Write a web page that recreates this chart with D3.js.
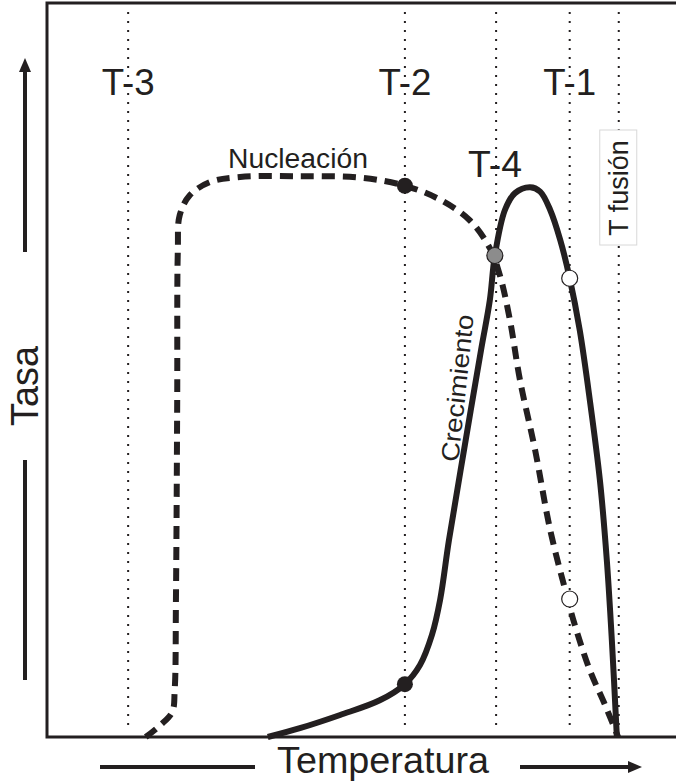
<!DOCTYPE html>
<html>
<head>
<meta charset="utf-8">
<script src="https://cdn.jsdelivr.net/npm/d3@7/dist/d3.min.js"></script>
<style>
  html, body { margin: 0; padding: 0; background: #fff; }
  svg { display: block; }
</style>
</head>
<body>
<svg id="chart" width="676" height="784"></svg>
<script>
// Temperature reference lines (0-100 relative temperature)
const refNames = ["T-3", "T-2", "T-4", "T-1", "T fusión"];
const refTemps = [12.9, 56.9, 71.4, 83.1, 90.9];

// Nucleation rate curve (dashed)
const nucTemp = [15.7, 18.0, 19.9, 20.3, 20.5, 20.7, 20.8, 21.1, 22.7, 25.9, 30.7, 40.2, 49.8, 56.9, 62.5, 67.2, 70.4, 72.0, 73.6, 75.2, 77.6, 80.0, 82.4, 83.9, 86.3, 88.7, 90.8];
const nucRate = [0, 1.6, 3.4, 6.4, 18.7, 45.9, 66.3, 71.1, 73.8, 75.6, 76.3, 76.4, 76.2, 75.1, 73.2, 70.4, 66.6, 62.9, 56.8, 48.6, 39.1, 28.2, 20.0, 15.3, 9.1, 4.4, 0];

// Growth rate curve (solid)
const groTemp = [35.1, 40.2, 46.6, 52.9, 56.9, 59.3, 61.2, 62.5, 63.9, 66.3, 69.0, 70.4, 71.2, 72.8, 74.4, 76.8, 78.4, 80.0, 81.6, 83.1, 84.7, 86.3, 87.9, 89.0, 89.8, 90.6];
const groRate = [0, 1.2, 3.0, 5.0, 7.2, 9.8, 13.9, 18.7, 26.8, 39.1, 52.7, 59.5, 65.6, 71.8, 74.1, 74.9, 74.3, 71.8, 67.7, 62.5, 55.4, 45.9, 35.0, 24.1, 13.2, 0];

// Marked points
const markTemp = [56.9, 56.9, 71.2, 83.1, 83.1];
const markRate = [75.1, 7.2, 65.6, 62.5, 18.8];
const markFill = ["#231f20", "#231f20", "#8c8c8c", "#fff", "#fff"];

const svg = d3.select("#chart");
const W = 676, H = 784;
const mLeft = 47, mTop = 3, mBottom = 737;

const x = d3.scaleLinear().domain([0, 100]).range([mLeft, W]);
const y = d3.scaleLinear().domain([0, 100]).range([mBottom, mTop]);

const ink = "#231f20";
const sans = "'Liberation Sans', Arial, Helvetica, sans-serif";

// Reference dotted lines
svg.append("g").selectAll("line")
  .data(refTemps)
  .join("line")
  .attr("x1", d => x(d)).attr("x2", d => x(d))
  .attr("y1", 12).attr("y2", mBottom - 8)
  .attr("stroke", ink)
  .attr("stroke-width", 2)
  .attr("stroke-dasharray", "2,7");

// Frame (top + left + bottom)
svg.append("path")
  .attr("d", `M${W},${mTop}H${mLeft}V${mBottom}H${W}`)
  .attr("fill", "none")
  .attr("stroke", ink)
  .attr("stroke-width", 3);

const line = d3.line()
  .x(d => x(d[0]))
  .y(d => y(d[1]))
  .curve(d3.curveCatmullRom.alpha(0.5));

const nuc = nucTemp.map((t, i) => [t, nucRate[i]]);
const gro = groTemp.map((t, i) => [t, groRate[i]]);

svg.append("path")
  .attr("d", line(gro))
  .attr("fill", "none")
  .attr("stroke", ink)
  .attr("stroke-width", 6);

svg.append("path")
  .attr("d", line(nuc))
  .attr("fill", "none")
  .attr("stroke", ink)
  .attr("stroke-width", 6)
  .attr("stroke-dasharray", "13,8");

// Marker dots
svg.append("g").selectAll("circle")
  .data(markTemp)
  .join("circle")
  .attr("cx", d => x(d))
  .attr("cy", (d, i) => y(markRate[i]))
  .attr("r", 8)
  .attr("fill", (d, i) => markFill[i])
  .attr("stroke", ink)
  .attr("stroke-width", (d, i) => markFill[i] === ink ? 0 : 1.2);

// Top labels
const topLabels = [0, 1, 3];
svg.append("g").selectAll("text")
  .data(topLabels)
  .join("text")
  .attr("x", i => x(refTemps[i]))
  .attr("y", 95)
  .attr("text-anchor", "middle")
  .attr("font-family", sans)
  .attr("font-size", 37)
  .attr("textLength", 53)
  .attr("lengthAdjust", "spacingAndGlyphs")
  .attr("fill", ink)
  .text(i => refNames[i]);

svg.append("text")
  .attr("x", x(refTemps[2]) - 1)
  .attr("y", 177)
  .attr("text-anchor", "middle")
  .attr("font-family", sans)
  .attr("font-size", 37)
  .attr("textLength", 54)
  .attr("lengthAdjust", "spacingAndGlyphs")
  .attr("fill", ink)
  .text(refNames[2]);

// T fusión boxed label
const fx = x(refTemps[4]), fy = 188;
svg.append("rect")
  .attr("x", fx - 19).attr("y", 130)
  .attr("width", 37).attr("height", 115)
  .attr("fill", "#fff")
  .attr("stroke", "#d8d8d8")
  .attr("stroke-width", 1);
svg.append("text")
  .attr("transform", `translate(${fx + 9},${fy}) rotate(-90)`)
  .attr("text-anchor", "middle")
  .attr("font-family", sans)
  .attr("font-size", 27)
  .attr("fill", ink)
  .text(refNames[4]);

// Curve labels
svg.append("text")
  .attr("x", 298).attr("y", 168)
  .attr("text-anchor", "middle")
  .attr("font-family", sans)
  .attr("font-size", 27)
  .attr("textLength", 140)
  .attr("lengthAdjust", "spacingAndGlyphs")
  .attr("fill", ink)
  .text("Nucleación");

svg.append("text")
  .attr("transform", "translate(466,389) rotate(-84)")
  .attr("text-anchor", "middle")
  .attr("font-family", sans)
  .attr("font-size", 25)
  .attr("textLength", 148)
  .attr("lengthAdjust", "spacingAndGlyphs")
  .attr("fill", ink)
  .text("Crecimiento");

// Axis titles with arrows
const arrowHead = (px, py, dir) => {
  const p = dir === "up"
    ? [[px, py], [px - 6, py + 14], [px + 6, py + 14]]
    : [[px, py], [px - 14, py - 6], [px - 14, py + 6]];
  svg.append("path")
    .attr("d", d3.line()(p) + "Z")
    .attr("fill", ink);
};

svg.append("line").attr("x1", 25).attr("x2", 25).attr("y1", 252).attr("y2", 66)
  .attr("stroke", ink).attr("stroke-width", 4);
arrowHead(25, 58, "up");
svg.append("line").attr("x1", 25).attr("x2", 25).attr("y1", 460).attr("y2", 680)
  .attr("stroke", ink).attr("stroke-width", 4);
svg.append("text")
  .attr("transform", "translate(38,386) rotate(-90)")
  .attr("text-anchor", "middle")
  .attr("font-family", sans)
  .attr("font-size", 38)
  .attr("textLength", 80)
  .attr("lengthAdjust", "spacingAndGlyphs")
  .attr("fill", ink)
  .text("Tasa");

svg.append("line").attr("x1", 100).attr("x2", 255).attr("y1", 767).attr("y2", 767)
  .attr("stroke", ink).attr("stroke-width", 4);
svg.append("line").attr("x1", 520).attr("x2", 632).attr("y1", 767).attr("y2", 767)
  .attr("stroke", ink).attr("stroke-width", 4);
arrowHead(642, 767, "right");
svg.append("text")
  .attr("x", 383).attr("y", 773)
  .attr("text-anchor", "middle")
  .attr("font-family", sans)
  .attr("font-size", 36)
  .attr("textLength", 212)
  .attr("lengthAdjust", "spacingAndGlyphs")
  .attr("fill", ink)
  .text("Temperatura");
</script>
</body>
</html>
